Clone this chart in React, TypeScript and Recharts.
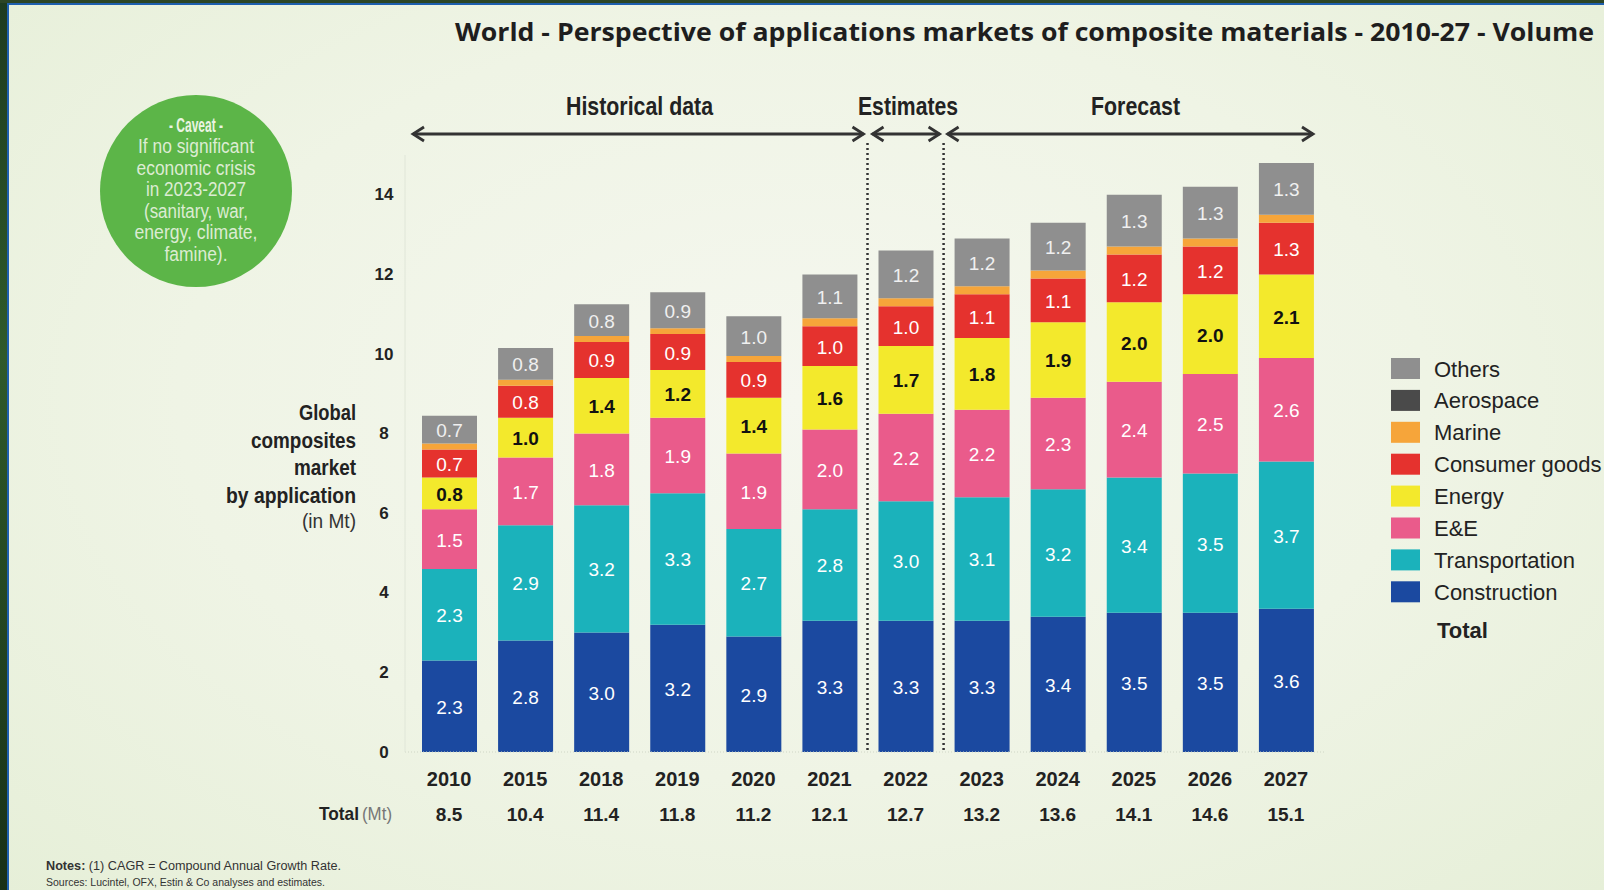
import React from 'react';
import { BarChart, Bar, XAxis, YAxis, LabelList } from 'recharts';

const years = ['2010', '2015', '2018', '2019', '2020', '2021', '2022', '2023', '2024', '2025', '2026', '2027'];
const construction = [2.3, 2.8, 3.0, 3.2, 2.9, 3.3, 3.3, 3.3, 3.4, 3.5, 3.5, 3.6];
const transportation = [2.3, 2.9, 3.2, 3.3, 2.7, 2.8, 3.0, 3.1, 3.2, 3.4, 3.5, 3.7];
const electrical = [1.5, 1.7, 1.8, 1.9, 1.9, 2.0, 2.2, 2.2, 2.3, 2.4, 2.5, 2.6];
const energy = [0.8, 1.0, 1.4, 1.2, 1.4, 1.6, 1.7, 1.8, 1.9, 2.0, 2.0, 2.1];
const consumer = [0.7, 0.8, 0.9, 0.9, 0.9, 1.0, 1.0, 1.1, 1.1, 1.2, 1.2, 1.3];
const marine = [0.15, 0.15, 0.15, 0.15, 0.15, 0.2, 0.2, 0.2, 0.2, 0.2, 0.2, 0.2];
const others = [0.7, 0.8, 0.8, 0.9, 1.0, 1.1, 1.2, 1.2, 1.2, 1.3, 1.3, 1.3];
const totals = [8.5, 10.4, 11.4, 11.8, 11.2, 12.1, 12.7, 13.2, 13.6, 14.1, 14.6, 15.1];
const yTicks = [0, 2, 4, 6, 8, 10, 12, 14];

const legendItems = [
  { name: 'Others', color: '#8f8f8f' },
  { name: 'Aerospace', color: '#4a4a4a' },
  { name: 'Marine', color: '#f6a53a' },
  { name: 'Consumer goods', color: '#e5322e' },
  { name: 'Energy', color: '#f3e92c' },
  { name: 'E&E', color: '#ea5b8b' },
  { name: 'Transportation', color: '#1bb2bb' },
  { name: 'Construction', color: '#1b49a0' },
];

// text + rendered width in the reference
const caveatLines: [string, number][] = [
  ['If no significant', 116],
  ['economic crisis', 119],
  ['in 2023-2027', 100],
  ['(sanitary, war,', 104],
  ['energy, climate,', 123],
  ['famine).', 63],
];
const axisTitleLines: [string, number][] = [
  ['Global', 57],
  ['composites', 105],
  ['market', 62],
  ['by application', 130],
];

const data = years.map((year, i) => ({
  year,
  Construction: construction[i],
  Transportation: transportation[i],
  'E&E': electrical[i],
  Energy: energy[i],
  'Consumer goods': consumer[i],
  Marine: marine[i],
  Others: others[i],
}));

const W = 1604;
const H = 890;
const PLOT_LEFT = 411;
const PLOT_RIGHT = 1324;
const PLOT_TOP = 155;
const PLOT_BOTTOM = 752;
const BAND = (PLOT_RIGHT - PLOT_LEFT) / years.length;
const SANS = "'Liberation Sans', Arial, sans-serif";

// squeezed text, stands in for the condensed face of the original
const T = (p: {
  x: number; y: number; len?: number; size: number; bold?: boolean;
  anchor?: 'start' | 'middle' | 'end'; fill?: string; family?: string; children: React.ReactNode;
}) => (
  <text
    x={p.x}
    y={p.y}
    fontSize={p.size}
    fontWeight={p.bold ? 700 : 400}
    textAnchor={p.anchor || 'start'}
    fill={p.fill || '#222'}
    fontFamily={p.family || SANS}
    textLength={p.len}
    lengthAdjust={p.len ? 'spacingAndGlyphs' : undefined}
  >
    {p.children}
  </text>
);

const makeLabel = (color: string, bold: boolean) => (props: any) => {
  const { x, y, width, height, value } = props;
  return (
    <text
      x={Number(x) + Number(width) / 2}
      y={Number(y) + Number(height) / 2 + 1}
      textAnchor="middle"
      dominantBaseline="central"
      fill={color}
      fontSize={19}
      fontWeight={bold ? 700 : 400}
      fontFamily={SANS}
    >
      {Number(value).toFixed(1)}
    </text>
  );
};

const XTick = (props: any) => {
  const { x, index, payload } = props;
  return (
    <g>
      <text x={x} y={779} textAnchor="middle" dominantBaseline="central" fontSize={20} fontWeight={700} fill="#222" fontFamily={SANS}>
        {payload.value}
      </text>
      <text x={x} y={814} textAnchor="middle" dominantBaseline="central" fontSize={19} fontWeight={700} fill="#222" fontFamily={SANS}>
        {totals[index].toFixed(1)}
      </text>
    </g>
  );
};

const YTick = (props: any) => {
  const { y, payload } = props;
  return (
    <text x={384} y={y} textAnchor="middle" dominantBaseline="central" fontSize={17} fontWeight={700} fill="#222" fontFamily={SANS}>
      {payload.value}
    </text>
  );
};

const Chevron = ({ x, y, dir }: { x: number; y: number; dir: 1 | -1 }) => (
  <path d={`M${x - dir * 11} ${y - 7} L${x} ${y} L${x - dir * 11} ${y + 7}`} fill="none" stroke="#333" strokeWidth={2.8} />
);

const Arrow = ({ x1, x2, y }: { x1: number; x2: number; y: number }) => (
  <g>
    <line x1={x1} x2={x2} y1={y} y2={y} stroke="#333" strokeWidth={2.8} />
    <Chevron x={x1} y={y} dir={-1} />
    <Chevron x={x2} y={y} dir={1} />
  </g>
);

const series = [
  { key: 'Construction', color: '#1b49a0', label: '#ffffff', bold: false },
  { key: 'Transportation', color: '#1bb2bb', label: '#ffffff', bold: false },
  { key: 'E&E', color: '#ea5b8b', label: '#ffffff', bold: false },
  { key: 'Energy', color: '#f3e92c', label: '#111111', bold: true },
  { key: 'Consumer goods', color: '#e5322e', label: '#ffffff', bold: false },
  { key: 'Marine', color: '#f6a53a', label: '', bold: false },
  { key: 'Others', color: '#8f8f8f', label: '#f0f0f0', bold: false },
];

export default function App() {
  const split1 = PLOT_LEFT + BAND * 6;
  const split2 = PLOT_LEFT + BAND * 7;
  return (
    <div
      style={{
        position: 'absolute',
        left: 0,
        top: 0,
        width: W,
        height: H,
        overflow: 'hidden',
        background: 'radial-gradient(ellipse at 50% 45%, #f5f7ef 0%, #eff4e5 55%, #e6efd8 100%)',
      }}
    >
      {/* dark foliage frame on the left and top */}
      <div style={{ position: 'absolute', left: 0, top: 0, width: 7, height: H, background: 'linear-gradient(180deg, #1e3b20, #2f5a2b 40%, #183018)' }} />
      <div style={{ position: 'absolute', left: 0, top: 0, width: W, height: 3, background: '#2c4526' }} />
      <div style={{ position: 'absolute', left: 7, top: 3, width: 2, height: H, background: '#1e5fae' }} />
      <div style={{ position: 'absolute', left: 7, top: 3, width: W, height: 2, background: '#1e5fae' }} />

      <div style={{ position: 'absolute', left: 0, top: 0 }}>
        <BarChart
          width={W}
          height={H}
          data={data}
          margin={{ top: PLOT_TOP, right: W - PLOT_RIGHT, bottom: H - PLOT_BOTTOM - 70, left: PLOT_LEFT - 46 }}
          barSize={55}
        >
          <XAxis
            dataKey="year"
            height={70}
            tickLine={false}
            axisLine={{ stroke: '#cfd6c6', strokeDasharray: '1 2' }}
            tick={<XTick />}
            interval={0}
            padding={{ left: 6, right: 0 }}
          />
          <YAxis
            width={40}
            domain={[0, 15]}
            ticks={yTicks}
            tickLine={false}
            axisLine={{ stroke: '#e0e6d8' }}
            tick={<YTick />}
          />
          {series.map((s) => (
            <Bar key={s.key} dataKey={s.key} stackId="a" fill={s.color} isAnimationActive={false}>
              {s.label ? <LabelList dataKey={s.key} content={makeLabel(s.label, s.bold)} /> : null}
            </Bar>
          ))}
        </BarChart>
      </div>

      <svg width={W} height={H} style={{ position: 'absolute', left: 0, top: 0, pointerEvents: 'none' }}>
        <T x={455} y={41} size={25} bold len={1139} fill="#1e1e1e" family="'Open Sans', sans-serif">
          World - Perspective of applications markets of composite materials - 2010-27 - Volume
        </T>

        <T x={566} y={115} size={25} bold len={147}>Historical data</T>
        <T x={858} y={115} size={25} bold len={100}>Estimates</T>
        <T x={1091} y={115} size={25} bold len={89}>Forecast</T>

        <Arrow x1={PLOT_LEFT + 2} x2={split1 - 4} y={134} />
        <Arrow x1={split1 + 5} x2={split2 - 4} y={134} />
        <Arrow x1={split2 + 4} x2={PLOT_RIGHT - 11} y={134} />

        <line x1={split1} x2={split1} y1={143} y2={PLOT_BOTTOM} stroke="#333" strokeWidth={2.5} strokeDasharray="2 3" />
        <line x1={split2} x2={split2} y1={143} y2={PLOT_BOTTOM} stroke="#333" strokeWidth={2.5} strokeDasharray="2 3" />

        <circle cx={196} cy={191} r={96} fill="#5cb548" />
        <T x={196} y={132} size={20} bold len={54} anchor="middle" fill="#eaf4e2">- Caveat -</T>
        {caveatLines.map(([line, len], i) => (
          <T key={line} x={196} y={153 + i * 21.5} size={20} len={len} anchor="middle" fill="#dcecd3">
            {line}
          </T>
        ))}

        {axisTitleLines.map(([line, len], i) => (
          <T key={line} x={356} y={420 + i * 27.5} size={22} bold len={len} anchor="end">
            {line}
          </T>
        ))}
        <T x={356} y={528} size={20} len={54} anchor="end" fill="#333">(in Mt)</T>

        <T x={359} y={820} size={19} bold len={40} anchor="end">Total</T>
        <T x={362} y={820} size={18} len={30} fill="#777">(Mt)</T>

        {legendItems.map((item, i) => (
          <g key={item.name}>
            <rect x={1391} y={358 + i * 31.9} width={29} height={21} fill={item.color} />
            <text x={1434} y={369 + i * 31.9} dominantBaseline="central" fontSize={22} fill="#222" fontFamily={SANS}>
              {item.name}
            </text>
          </g>
        ))}
        <text x={1437} y={630} dominantBaseline="central" fontSize={22} fontWeight={700} fill="#222" fontFamily={SANS}>Total</text>

        <T x={46} y={870} size={12} bold len={295} fill="#333">
          Notes: <tspan fontWeight={400}>(1) CAGR = Compound Annual Growth Rate.</tspan>
        </T>
        <T x={46} y={886} size={11} len={279} fill="#333">
          Sources: Lucintel, OFX, Estin &amp; Co analyses and estimates.
        </T>
      </svg>
    </div>
  );
}
